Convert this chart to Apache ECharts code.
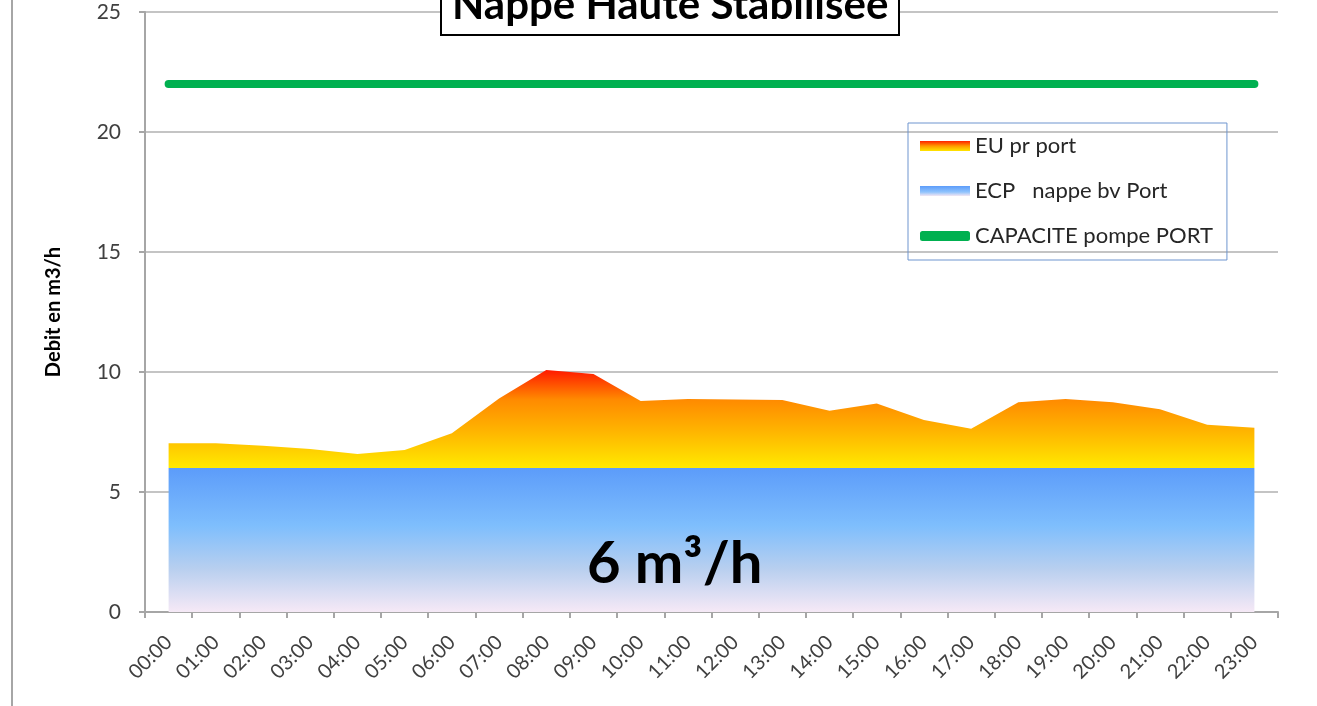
<!DOCTYPE html>
<html><head><meta charset="utf-8">
<script src="https://cdn.jsdelivr.net/npm/echarts@6/dist/echarts.min.js"></script>
<style>html,body{margin:0;padding:0;background:#fff}#c{width:1317px;height:706px}</style>
</head><body><div id="c"></div>
<script>
const hours = ['00:00','01:00','02:00','03:00','04:00','05:00','06:00','07:00','08:00','09:00','10:00','11:00',
  '12:00','13:00','14:00','15:00','16:00','17:00','18:00','19:00','20:00','21:00','22:00','23:00'];
// ECP nappe (base, m3/h)
const ecpValues = [6,6,6,6,6,6,6,6,6,6,6,6,6,6,6,6,6,6,6,6,6,6,6,6];
// EU (stacked above ECP, m3/h)
const euValues = [1.03,1.03,0.93,0.79,0.58,0.75,1.45,2.90,4.08,3.92,2.79,2.88,2.85,2.83,2.39,2.69,2.00,1.64,2.74,2.88,2.74,2.45,1.80,1.68];
// Pump capacity
const capaciteValues = [22,22,22,22,22,22,22,22,22,22,22,22,22,22,22,22,22,22,22,22,22,22,22,22];
const names = ['EU pr port', 'ECP   nappe bv Port', 'CAPACITE pompe PORT'];

const FONT = 'Lato';
const chart = echarts.init(document.getElementById('c'));
const euGrad = new echarts.graphic.LinearGradient(0,0,0,1,[
  {offset:0,color:'#FF1A00'},{offset:0.3,color:'#FF8A00'},{offset:0.65,color:'#FFB800'},{offset:1,color:'#FFEA00'}]);
const ecpGrad = new echarts.graphic.LinearGradient(0,0,0,1,[
  {offset:0,color:'#5C9CFA'},{offset:0.4,color:'#7EBEFD'},{offset:0.7,color:'#B8CFEF'},{offset:1,color:'#F6E9F6'}]);

chart.setOption({
  animation:false,
  backgroundColor:'#fff',
  textStyle:{fontFamily:FONT},
  title:{
    text:'Nappe Haute Stabilisée',
    left:441, top:-22,
    backgroundColor:'#fff', borderColor:'#000', borderWidth:2,
    padding:[6,11,9,11],
    textStyle:{fontFamily:FONT, fontSize:42, lineHeight:42, fontWeight:'bold', color:'#000'},
    z:10
  },
  grid:{left:145, right:39, top:12, bottom:94},
  legend:{
    orient:'vertical', left:908, top:123,
    padding:[12,14,13,12], itemGap:23,
    itemWidth:50, itemHeight:10,
    borderColor:'#6E95CF', borderWidth:1,
    textStyle:{fontFamily:FONT, fontSize:22, color:'#262626'},
    data:[
      {name:names[0], icon:'rect', itemStyle:{color:new echarts.graphic.LinearGradient(0,0,0,1,[{offset:0,color:'#FF2000'},{offset:0.5,color:'#FF9A00'},{offset:1,color:'#FFE600'}])}},
      {name:names[1], icon:'rect', itemStyle:{color:new echarts.graphic.LinearGradient(0,0,0,1,[{offset:0,color:'#5C9CFA'},{offset:0.6,color:'#8FC3FD'},{offset:1,color:'#F3E6F3'}])}},
      {name:names[2], icon:'roundRect', itemStyle:{color:'#00B050'}}
    ]
  },
  xAxis:{
    type:'category', data:hours, boundaryGap:true,
    axisLine:{lineStyle:{color:'#A6A6A6', width:2}},
    axisTick:{show:true, length:6, alignWithLabel:false, lineStyle:{color:'#A6A6A6', width:2}},
    axisLabel:{rotate:45, fontSize:20, color:'#404040', margin:27, fontFamily:FONT, interval:0}
  },
  yAxis:{
    type:'value', min:0, max:25, interval:5,
    name:'Debit en m3/h', nameLocation:'middle', nameGap:81, nameRotate:90,
    nameTextStyle:{fontFamily:FONT, fontSize:20, fontWeight:'bold', color:'#000'},
    axisLine:{show:true, lineStyle:{color:'#A6A6A6', width:2}},
    axisTick:{show:true, length:6, lineStyle:{color:'#A6A6A6', width:2}},
    axisLabel:{fontSize:21, color:'#404040', margin:24, fontFamily:FONT},
    splitLine:{lineStyle:{color:'#C4C4C4', width:2}}
  },
  graphic:[
    {type:'line', shape:{x1:12,y1:0,x2:12,y2:706}, style:{stroke:'#A6A6A6', lineWidth:2}},
    {type:'text', left:587, top:535, z:20,
     style:{text:'6 m³/h', fill:'#000', font:'bold 58px '+FONT}}
  ],
  series:[
    {name:names[1], type:'line', stack:'t', data:ecpValues, symbol:'none',
     lineStyle:{width:0}, areaStyle:{color:ecpGrad, opacity:1}, itemStyle:{color:'#6FA8FB'}, z:2},
    {name:names[0], type:'line', stack:'t', data:euValues, symbol:'none',
     lineStyle:{width:0}, areaStyle:{color:euGrad, opacity:1}, itemStyle:{color:'#FF9A00'}, z:2},
    {name:names[2], type:'line', data:capaciteValues, symbol:'none',
     lineStyle:{width:8, color:'#00B050', cap:'round'}, itemStyle:{color:'#00B050'}, z:3}
  ]
});
</script></body></html>
